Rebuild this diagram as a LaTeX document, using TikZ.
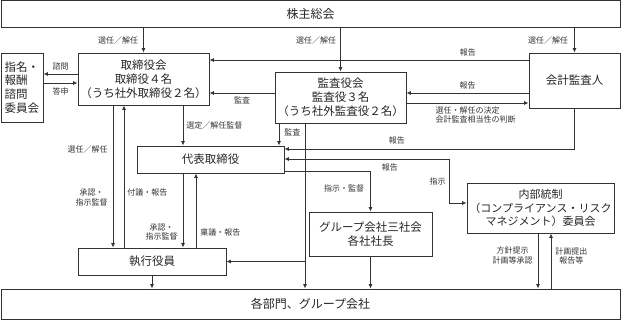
\documentclass[tikz,border=0pt]{standalone}
\usepackage{fontspec}
\setmainfont{Noto Sans CJK JP}
\usepackage{tikz}
\usetikzlibrary{arrows.meta,positioning}

\begin{document}
\begin{tikzpicture}[
    x=1pt, y=-1pt,
    box/.style={rectangle, draw=black!80, line width=0.9pt, align=center, inner sep=1pt,
        text=black!85, font=\fontsize{11.5}{13.8}\selectfont},
    lbl/.style={font=\fontsize{8}{9.5}\selectfont, text=black!80, inner sep=0pt, align=center},
    arr/.style={-{Latex[length=4.5pt,width=4pt]}, line width=0.75pt, draw=black!80},
    arrboth/.style={{Latex[length=4.5pt,width=4pt]}-{Latex[length=4.5pt,width=4pt]}, line width=0.75pt, draw=black!80}
]
    \useasboundingbox (0,0) rectangle (622,320);

    % Boxes
    \node[box, minimum width=619pt, minimum height=27pt, font=\fontsize{12}{14}\selectfont] (share) at (310.5,13.5) {株主総会};
    \node[box, minimum width=131pt, minimum height=52pt] (board) at (143.5,79) {取締役会\\取締役４名\\（うち社外取締役２名）};
    \node[box, minimum width=42pt, minimum height=69pt, align=left] (nomin) at (22,87.5) {指名・\\報酬\\諮問\\委員会};
    \node[box, minimum width=131pt, minimum height=51pt] (audit) at (340.5,97.5) {監査役会\\監査役３名\\（うち社外監査役２名）};
    \node[box, minimum width=91pt, minimum height=55pt] (accnt) at (574.5,80.5) {会計監査人};
    \node[box, minimum width=147pt, minimum height=27pt] (ceo) at (210.5,159.5) {代表取締役};
    \node[box, minimum width=148pt, minimum height=27pt] (exec) at (152,261.5) {執行役員};
    \node[box, minimum width=123pt, minimum height=44pt] (group) at (370.5,234) {グループ会社三社会\\各社社長};
    \node[box, minimum width=147pt, minimum height=50pt, font=\fontsize{11}{13.8}\selectfont] (ictrl) at (540.5,208) {内部統制\\（コンプライアンス・リスク\\マネジメント）委員会};
    \node[box, minimum width=619pt, minimum height=30.5pt, font=\fontsize{12}{14}\selectfont] (dept) at (310.5,304.25) {各部門、グループ会社};

    % From the shareholders
    \draw[arr] (share.south -| board.north) -- node[lbl, left=5pt]{選任／解任} (board.north);
    \draw[arr] (share.south -| audit.north) -- node[lbl, pos=0.3, left=4pt]{選任／解任} (audit.north);
    \draw[arr] (share.south -| accnt.north) -- node[lbl, left=6pt]{選任／解任} (accnt.north);

    % Board and committee
    \draw[arr] (board.west |- 0,74) -- node[lbl, above=3pt]{諮問} (nomin.east |- 0,74);
    \draw[arr] (nomin.east |- 0,83) -- node[lbl, below=4pt]{答申} (board.west |- 0,83);

    % Auditors
    \draw[arr] (accnt.west |- 0,60) -- node[lbl, pos=0.19, above=3pt]{報告} (board.east |- 0,60);
    \draw[arr] (audit.west |- 0,93) -- node[lbl, below=3pt]{監査} (board.east |- 0,93);
    \draw[arr] (accnt.west |- 0,93) -- node[lbl, above=3pt]{報告} (audit.east |- 0,93);
    \draw[arr] (audit.east |- 0,103) -- node[lbl, pos=0.236, anchor=north west, align=left, yshift=-3pt]{選任・解任の決定\\会計監査相当性の判断} (accnt.west |- 0,103);
    \draw[arr] (audit.south -| 279,0) -- node[lbl, pos=0.4, right=5pt]{監査} (ceo.north -| 279,0);
    \draw[arr] (accnt.south) |- node[lbl, pos=0.806, above=4pt]{報告} (ceo.east |- 0,149);

    % Representative director
    \draw[arr] (board.south -| 183,0) -- node[lbl, right=3pt]{選定／解任監督} (ceo.north -| 183,0);
    \draw[arrboth] (ceo.east |- 0,159) -- node[lbl, pos=0.64, below=4pt]{報告} (449,159)
        -- node[lbl, pos=0.52, left=3pt]{指示} (449,203) -- (ictrl.west |- 0,203);
    \draw[arr] (ceo.east |- 0,171) -| node[lbl, pos=0.72, left=6pt]{指示・監督} (group.north);

    % Executive officers
    \draw[arr] (board.south -| 113,0) -- node[lbl, pos=0.31, left=5pt]{選任／解任}
        node[lbl, pos=0.65, left=5pt]{承認・\\指示監督} (exec.north -| 113,0);
    \draw[arr] (exec.north -| 124,0) -- node[lbl, pos=0.385, right=3pt]{付議・報告} (board.south -| 124,0);
    \draw[arr] (ceo.south -| 183,0) -- node[lbl, pos=0.79, left=5pt]{承認・\\指示監督} (exec.north -| 183,0);
    \draw[arr] (exec.north -| 196,0) -- node[lbl, pos=0.2, right=4pt]{稟議・報告} (ceo.south -| 196,0);

    % Down to the departments
    \draw[arr] (exec.south) -- (dept.north -| exec.south);
    \draw[arr] (audit.south -| 305,0) -- (dept.north -| 305,0);
    \draw[arr] (audit.south -| 305,0) |- (exec.east);
    \draw[arr] (group.south) -- (dept.north -| group.south);
    \draw[arr] (ictrl.south -| 538,0) -- node[lbl, pos=0.4, left=5pt]{方針提示\\計画等承認} (dept.north -| 538,0);
    \draw[arr] (dept.north -| 551,0) -- node[lbl, pos=0.59, right=4pt]{計画提出\\報告等} (ictrl.south -| 551,0);
\end{tikzpicture}
\end{document}
